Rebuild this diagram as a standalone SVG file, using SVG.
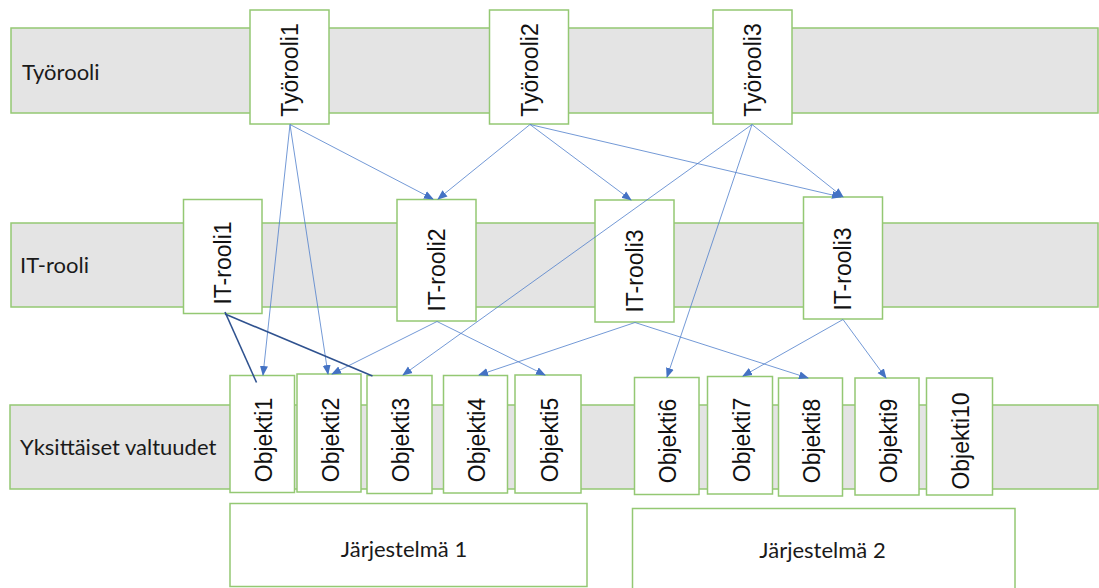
<svg xmlns="http://www.w3.org/2000/svg" width="1099" height="588" viewBox="0 0 1099 588">
<style>
.band{fill:#E4E4E4;stroke:#94C873;stroke-width:1.5}
.box{fill:#FFFFFF;stroke:#94C873;stroke-width:1.5}
.lbl{font-family:Lato,"Liberation Sans",sans-serif;font-size:22px;fill:#1a1a1a}
.rot{font-family:"Liberation Sans",Arial,sans-serif;font-size:23px;fill:#111;text-anchor:middle}
.sys{font-family:Lato,"Liberation Sans",sans-serif;font-size:22px;fill:#1a1a1a;text-anchor:middle}
.c{stroke:#4F7FCC;stroke-width:0.8;fill:none;marker-end:url(#ah)}
.d{stroke:#2F528F;stroke-width:1.6;fill:none}
</style>
<defs>
<marker id="ah" markerUnits="userSpaceOnUse" markerWidth="10" markerHeight="10" viewBox="0 0 10 10" refX="9" refY="5" orient="auto">
<path d="M0,1 L10,5 L0,9 Z" fill="#4472C4"/>
</marker>
</defs>
<g id="bands">
<rect class="band" x="11" y="28" width="1087" height="85"/>
<text class="lbl" x="22" y="80">Työrooli</text>
<rect class="band" x="11" y="223" width="1087" height="84"/>
<text class="lbl" x="20" y="273">IT-rooli</text>
<rect class="band" x="10" y="405" width="1088" height="84"/>
<text class="lbl" x="20" y="455">Yksittäiset valtuudet</text>
</g>
<g id="tyorooli1"><rect class="box" x="250" y="10" width="79" height="114"/><text class="rot" transform="translate(298,70) rotate(-90)">Työrooli1</text></g>
<g id="tyorooli2"><rect class="box" x="489.5" y="10" width="79" height="114"/><text class="rot" transform="translate(537.5,70) rotate(-90)">Työrooli2</text></g>
<g id="tyorooli3"><rect class="box" x="713" y="10" width="79" height="114"/><text class="rot" transform="translate(761,70) rotate(-90)">Työrooli3</text></g>
<g id="itrooli1"><rect class="box" x="183.5" y="199.5" width="78.5" height="114"/><text class="rot" transform="translate(231,263) rotate(-90)">IT-rooli1</text></g>
<g id="itrooli2"><rect class="box" x="397" y="199.5" width="79" height="121.5"/><text class="rot" transform="translate(445,270) rotate(-90)">IT-rooli2</text></g>
<g id="itrooli3a"><rect class="box" x="595" y="200" width="79" height="122"/><text class="rot" transform="translate(643,271) rotate(-90)">IT-rooli3</text></g>
<g id="itrooli3b"><rect class="box" x="803.5" y="197" width="79" height="122"/><text class="rot" transform="translate(851,269) rotate(-90)">IT-rooli3</text></g>
<g id="objekti1"><rect class="box" x="230" y="375.5" width="64.5" height="117"/><text class="rot" transform="translate(272,440) rotate(-90)">Objekti1</text></g>
<g id="objekti2"><rect class="box" x="297" y="374" width="64" height="118"/><text class="rot" transform="translate(338.5,440) rotate(-90)">Objekti2</text></g>
<g id="objekti3"><rect class="box" x="367" y="375.5" width="65" height="118"/><text class="rot" transform="translate(409,440) rotate(-90)">Objekti3</text></g>
<g id="objekti4"><rect class="box" x="443.5" y="375.5" width="64" height="117.5"/><text class="rot" transform="translate(485,440) rotate(-90)">Objekti4</text></g>
<g id="objekti5"><rect class="box" x="515" y="375" width="66" height="118"/><text class="rot" transform="translate(557.5,440) rotate(-90)">Objekti5</text></g>
<g id="objekti6"><rect class="box" x="634.5" y="377.5" width="64.5" height="117"/><text class="rot" transform="translate(676,441) rotate(-90)">Objekti6</text></g>
<g id="objekti7"><rect class="box" x="707.5" y="376.5" width="65" height="117.5"/><text class="rot" transform="translate(749.5,440) rotate(-90)">Objekti7</text></g>
<g id="objekti8"><rect class="box" x="778.5" y="378" width="64" height="118"/><text class="rot" transform="translate(820,441) rotate(-90)">Objekti8</text></g>
<g id="objekti9"><rect class="box" x="855" y="378" width="64" height="117"/><text class="rot" transform="translate(896.5,441) rotate(-90)">Objekti9</text></g>
<g id="objekti10"><rect class="box" x="926.5" y="378" width="66" height="117"/><text class="rot" transform="translate(969,441) rotate(-90)">Objekti10</text></g>
<g id="jarjestelma1"><rect class="box" x="230" y="503.5" width="357" height="83"/><text class="sys" x="404" y="557">Järjestelmä 1</text></g>
<g id="jarjestelma2"><rect class="box" x="632.5" y="508.5" width="382.5" height="90"/><text class="sys" x="822.5" y="558">Järjestelmä 2</text></g>
<g id="connectors">
<line class="c" x1="290" y1="124.5" x2="263" y2="375"/>
<line class="c" x1="290" y1="124.5" x2="328" y2="374"/>
<line class="c" x1="290" y1="124.5" x2="433" y2="199"/>
<line class="c" x1="530" y1="124.5" x2="438" y2="199"/>
<line class="c" x1="530" y1="124.5" x2="631" y2="200"/>
<line class="c" x1="530" y1="124.5" x2="841" y2="197"/>
<line class="c" x1="752" y1="124.5" x2="843" y2="197"/>
<line class="c" x1="752" y1="124.5" x2="403" y2="375"/>
<line class="c" x1="752" y1="124.5" x2="667" y2="377"/>
<line class="c" x1="437" y1="321.5" x2="332" y2="374"/>
<line class="c" x1="437" y1="321.5" x2="545" y2="375"/>
<line class="c" x1="635" y1="322.5" x2="479" y2="375"/>
<line class="c" x1="635" y1="322.5" x2="808" y2="378"/>
<line class="c" x1="843" y1="319.5" x2="743" y2="376"/>
<line class="c" x1="843" y1="319.5" x2="886" y2="378"/>
<line class="d" x1="225" y1="312" x2="256.5" y2="382.5"/>
<line class="d" x1="225" y1="314" x2="372.5" y2="376"/>
</g>
</svg>
